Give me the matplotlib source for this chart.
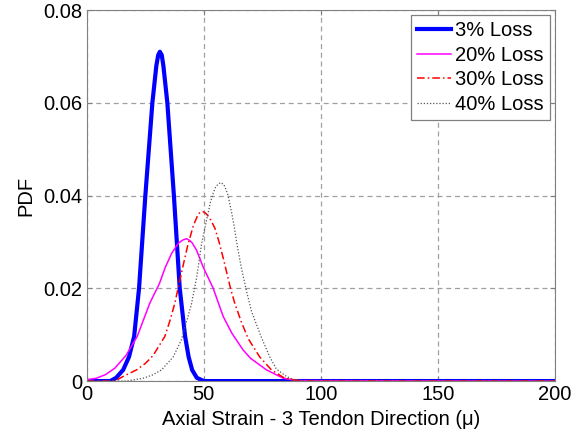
import numpy as np
import matplotlib.pyplot as plt

plt.rcParams['font.family'] = ['Liberation Sans', 'DejaVu Sans']

# values
x_3 = [0, 10, 12.5, 15.5, 18, 20.2, 22.3, 25, 28, 29.7, 30.5, 31.2, 32, 32.7,
       34.4, 37.2, 39.7, 42, 43.5, 45, 47, 50, 200]
y_3 = [0, 0, 0.0007, 0.0024, 0.0052, 0.0096, 0.020, 0.040, 0.060, 0.068,
       0.0703, 0.071, 0.0703, 0.068, 0.060, 0.040, 0.020, 0.0096, 0.0052,
       0.0024, 0.0007, 0, 0]

x_20 = [0, 4, 8, 12, 16.7, 21.5, 26.9, 31, 33.5, 36.2, 38, 39.3, 41, 42.6,
        44, 45, 46.9, 49.7, 54, 58.3, 62, 66.8, 70, 76.8, 84, 90, 200]
y_20 = [0.0003, 0.0006, 0.0014, 0.0028, 0.0055, 0.0096, 0.0168, 0.021, 0.0245,
        0.0275, 0.0289, 0.0298, 0.0304, 0.0307, 0.0303, 0.0298, 0.0282,
        0.0246, 0.020, 0.0139, 0.0103, 0.0067, 0.0049, 0.0024, 0.0006,
        0.0001, 0]

x_30 = [0, 12, 15.5, 21.2, 25, 28.3, 33.3, 35.5, 37.6, 40.5, 43, 45.5, 47.6,
        48.5, 49.4, 50.5, 51.5, 53, 54.7, 56.5, 58.3, 61.4, 63.2, 66, 68.9,
        73.9, 78.9, 84.6, 92, 200]
y_30 = [0, 0, 0.001, 0.0024, 0.0038, 0.0055, 0.0096, 0.013, 0.0168, 0.0235,
        0.029, 0.0335, 0.0360, 0.0364, 0.0366, 0.0363, 0.0358, 0.0347, 0.0330,
        0.030, 0.0265, 0.020, 0.0168, 0.0128, 0.0092, 0.0052, 0.0024, 0.0006,
        0, 0]

x_40 = [0, 17, 24, 28, 31.9, 36.9, 40.5, 44.7, 47, 49, 51.5, 52.8, 54, 55,
        56, 57.1, 58.5, 59.3, 60.4, 61.2, 62, 63, 64, 66, 68.2, 70.4, 74.7,
        78.2, 81, 85.3, 88, 92, 200]
y_40 = [0, 0, 0.0006, 0.0013, 0.0024, 0.0052, 0.009, 0.0166, 0.0225, 0.0295,
        0.0355, 0.0385, 0.0405, 0.0418, 0.0424, 0.0428, 0.0424, 0.0415, 0.040,
        0.038, 0.036, 0.0333, 0.030, 0.0245, 0.0195, 0.015, 0.0093, 0.0052,
        0.0026, 0.001, 0.0004, 0, 0]

fig = plt.figure(figsize=(5.87, 4.36), dpi=100)
ax = fig.add_axes([0.148, 0.126, 0.797, 0.851])

ax.plot(x_3, y_3, color='#0000ff', lw=3, label='3% Loss')
ax.plot(x_20, y_20, color='#ff00ff', lw=1.1, label='20% Loss')
ax.plot(x_30, y_30, color='#ff0000', lw=1.1, linestyle=(0, (5, 2, 1, 2)),
        label='30% Loss')
ax.plot(x_40, y_40, color='#555555', lw=0.9, linestyle=(0, (1, 1.5)),
        label='40% Loss')

ax.set_xlim(0, 200)
ax.set_ylim(0, 0.08)
ax.set_xticks([0, 50, 100, 150, 200])
ax.set_yticks([0, 0.02, 0.04, 0.06, 0.08])
ax.set_yticklabels(['0', '0.02', '0.04', '0.06', '0.08'])
ax.tick_params(direction='in', top=True, right=True, labelsize=14.5,
               color='#808080', pad=3)
for s in ax.spines.values():
    s.set_color('#808080')
ax.grid(True, color='#a0a0a0', linestyle=(0, (4, 3)), lw=0.9)
ax.set_axisbelow(True)

ax.set_xlabel('Axial Strain - 3 Tendon Direction (μ)', fontsize=14.5,
              labelpad=4)
ax.set_ylabel('PDF', fontsize=14.5, labelpad=6)

leg = ax.legend(loc='upper right', fontsize=14.5, fancybox=False,
                framealpha=1, edgecolor='#808080', labelspacing=0.28,
                handlelength=1.7, handletextpad=0.2, borderpad=0.3,
                borderaxespad=0.25)
leg.get_frame().set_linewidth(0.9)

fig.savefig('out.png', dpi=100)
